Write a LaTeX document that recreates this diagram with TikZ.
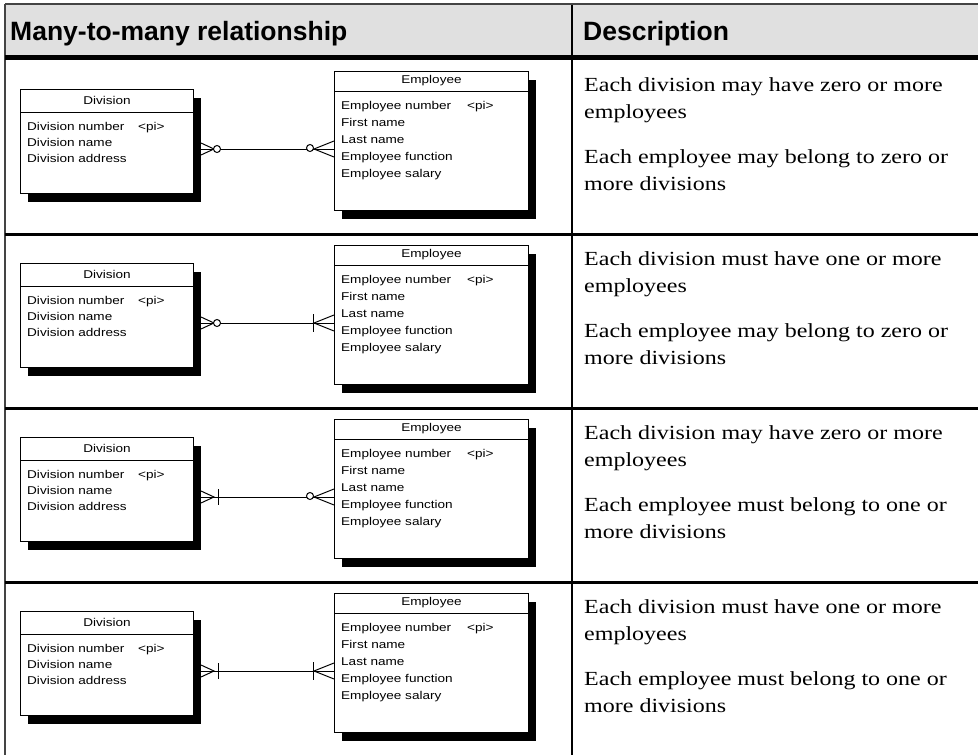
\documentclass[tikz,border=0pt]{standalone}
\usepackage{fontspec}
\setmainfont{Liberation Serif}
\newfontfamily\headfont{Liberation Sans}
\newfontfamily\descfont[FakeStretch=1.2]{Liberation Serif}
\newfontfamily\entfont[FakeStretch=1.2]{Liberation Sans}
\usetikzlibrary{calc,shadows}
\definecolor{headgray}{HTML}{E0E0E0}
\definecolor{framegray}{HTML}{444444}

\begin{document}
\begin{tikzpicture}[x=1pt,y=-1pt,
  entity/.style={draw=black, line width=1pt, fill=white, anchor=north west,
    inner sep=0pt,
    drop shadow={shadow xshift=7pt, shadow yshift=-8pt, fill=black, opacity=1}},
  enttitle/.style={font=\entfont\fontsize{11.3}{11}\selectfont, anchor=base, inner sep=0pt},
  attr/.style={font=\entfont\fontsize{11.3}{11}\selectfont, anchor=base west, inner sep=0pt},
  desc/.style={font=\descfont\fontsize{20}{20}\selectfont, anchor=base west, inner sep=0pt},
  head/.style={font=\headfont\bfseries\fontsize{26.5}{26.5}\selectfont, anchor=base west, inner sep=0pt},
  rel/.style={line width=1pt, line cap=butt},
  rule/.style={line width=3pt, black},
]
\useasboundingbox (0,0) rectangle (978,755);

% header band
\fill[headgray] (5,5) rectangle (978,57);
\node[head] (h1) at (10,40) {Many-to-many relationship};
\node[head] (h2) at (583,40) {Description};

% table frame
\draw[framegray, line width=2pt] (5,4) -- (978,4);
\draw[framegray, line width=2.5pt] (5,4) -- (5,755);
\draw[black, line width=2pt] (572,5) -- (572,755);
\draw[black, line width=5pt] (5,57.5) -- (978,57.5);
\foreach \yy in {234,408,582} \draw[rule] (5,\yy) -- (978,\yy);

% one row per cardinality combination
\foreach \k/\dz/\ez/\la/\lb in {0/1/1/may have zero/may belong to zero,
                               1/1/0/must have one/may belong to zero,
                               2/0/1/may have zero/must belong to one,
                               3/0/0/must have one/must belong to one}{
  \pgfmathsetmacro\dy{174*\k}
  % Division entity
  \node[entity, minimum width=173pt, minimum height=104pt] (div\k) at (20,{89+\dy}) {};
  \draw[line width=1pt] ($(div\k.north west)+(0,23)$) -- ($(div\k.north east)+(0,23)$);
  \node[enttitle] (dt\k) at ($(div\k.north)+(0,15)$) {Division};
  \node[attr] (da\k) at ($(div\k.north west)+(7,41)$) {Division number};
  \node[attr] (dp\k) at ($(div\k.north west)+(118,41)$) {<pi>};
  \node[attr] (db\k) at ($(div\k.north west)+(7,57)$) {Division name};
  \node[attr] (dc\k) at ($(div\k.north west)+(7,73)$) {Division address};
  % Employee entity
  \node[entity, minimum width=194pt, minimum height=139pt] (emp\k) at (334,{71+\dy}) {};
  \draw[line width=1pt] ($(emp\k.north west)+(0,20)$) -- ($(emp\k.north east)+(0,20)$);
  \node[enttitle] (et\k) at ($(emp\k.north)+(0,12)$) {Employee};
  \node[attr] (ea\k) at ($(emp\k.north west)+(7,38)$) {Employee number};
  \node[attr] (ep\k) at ($(emp\k.north west)+(133,38)$) {<pi>};
  \node[attr] (eb\k) at ($(emp\k.north west)+(7,55)$) {First name};
  \node[attr] (ec\k) at ($(emp\k.north west)+(7,72)$) {Last name};
  \node[attr] (ed\k) at ($(emp\k.north west)+(7,89)$) {Employee function};
  \node[attr] (ee\k) at ($(emp\k.north west)+(7,106)$) {Employee salary};
  % relationship
  \coordinate (dA\k) at ($(div\k.north east)+(0,60)$);
  \coordinate (eA\k) at ($(emp\k.north west)+(0,78)$);
  \draw[rel] (dA\k) -- (eA\k);
  \draw[rel] ($(dA\k)+(7,-6)$) -- ($(dA\k)+(20,0)$) -- ($(dA\k)+(7,6)$);
  \draw[rel] (eA\k) ++(0,-8) -- ($(eA\k)+(-20,0)$) -- ($(eA\k)+(0,8)$);
  \ifnum\dz=1
    \draw[rel, fill=white] ($(dA\k)+(23,0)$) circle (3.5pt);
  \else
    \draw[rel] ($(dA\k)+(24,-8)$) -- ($(dA\k)+(24,8)$);
  \fi
  \ifnum\ez=1
    \draw[rel, fill=white] ($(eA\k)+(-24,-1)$) circle (3.5pt);
  \else
    \draw[rel] ($(eA\k)+(-21,-9)$) -- ($(eA\k)+(-21,9)$);
  \fi
  % description
  \node[desc] (t1\k) at (584,{91+\dy}) {Each division \la{} or more};
  \node[desc] (t2\k) at (584,{118+\dy}) {employees};
  \node[desc] (t3\k) at (584,{163+\dy}) {Each employee \lb{} or};
  \node[desc] (t4\k) at (584,{190+\dy}) {more divisions};
}
\end{tikzpicture}
\end{document}
